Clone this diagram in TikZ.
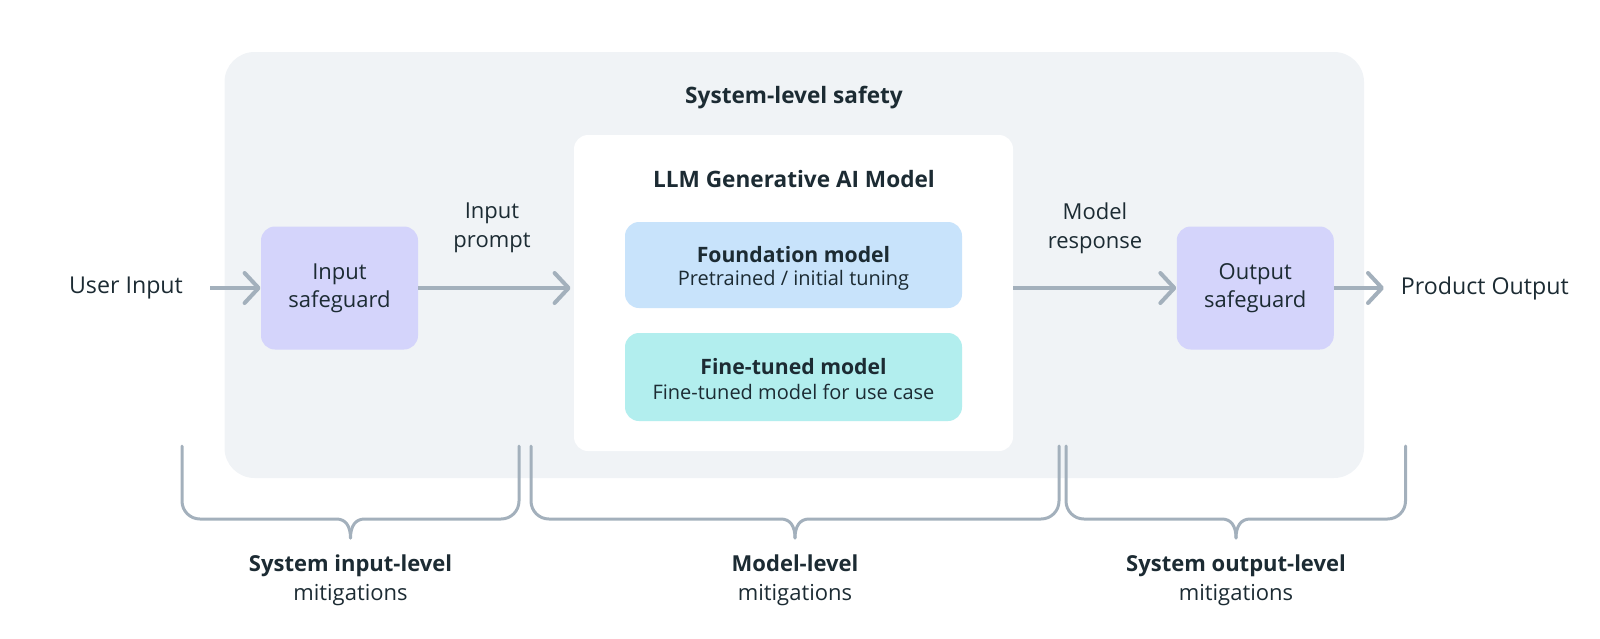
\documentclass[tikz,border=0pt]{standalone}
\usepackage{fontspec}
\setmainfont{Open Sans}
\usetikzlibrary{arrows.meta}
\definecolor{txt}{HTML}{1C2B33}
\definecolor{sysbg}{HTML}{F0F3F6}
\definecolor{lav}{HTML}{D4D4FB}
\definecolor{fblue}{HTML}{C8E3FB}
\definecolor{fcyan}{HTML}{B2EEEE}
\definecolor{lnc}{HTML}{A3B0BC}
\newcommand\mybrace[3]{%
  \draw[brc] ({#1},446) -- ({#1},501) .. controls ({#1},511) and ({#1+8},519) .. ({#1+18},519)
     -- ({#3-14},519) .. controls ({#3-5},519) and ({#3},526) .. ({#3},538);
  \draw[brc] ({#2},446) -- ({#2},501) .. controls ({#2},511) and ({#2-8},519) .. ({#2-18},519)
     -- ({#3+14},519) .. controls ({#3+5},519) and ({#3},526) .. ({#3},538);
}
\begin{document}
\begin{tikzpicture}[x=0.5pt,y=-0.5pt,
  every node/.style={text=txt, font=\fontsize{11}{14}\selectfont},
  panel/.style={draw=none, rounded corners=7pt, inner sep=0pt},
  arr/.style={draw=lnc, line width=2pt, -{Straight Barb[length=7pt,width=15pt,line cap=round,line join=round]}},
  brc/.style={draw=lnc, line width=1.5pt, line cap=round},
  hd/.style={font=\fontsize{11.3}{14}\selectfont\bfseries},
  ttl/.style={font=\fontsize{10.6}{14}\selectfont\bfseries},
  sub/.style={font=\fontsize{10}{12}\selectfont},
  side/.style={font=\fontsize{11.6}{14}\selectfont},
  lbl/.style={align=center, font=\fontsize{11}{14.5}\selectfont}
]
\path[use as bounding box] (0,0) rectangle (1600,638);
% system-level background
\node[panel, fill=sysbg, rounded corners=15pt, minimum width=569.75pt, minimum height=213pt] (sys) at (794.25,265) {};
\node[hd] (systitle) at (794,97.6) {System-level safety};
% LLM model box
\node[panel, fill=white, minimum width=219.5pt, minimum height=158pt] (llm) at (793.5,293) {};
\node[hd] (llmtitle) at (794,179) {LLM Generative AI Model};
\node[panel, fill=fblue, minimum width=168.5pt, minimum height=43pt] (found) at (793.5,265) {};
\node[ttl] (foundt) at (793.5,255) {Foundation model};
\node[sub] (founds) at (793.5,280) {Pretrained / initial tuning};
\node[panel, fill=fcyan, minimum width=168.5pt, minimum height=44pt] (fine) at (793.5,377) {};
\node[ttl] (finet) at (793.5,367) {Fine-tuned model};
\node[sub] (fines) at (793.5,392) {Fine-tuned model for use case};
% safeguards
\node[panel, fill=lav, minimum width=78.5pt, minimum height=61.5pt, align=center] (insg) at (339.5,288) {Input\\safeguard};
\node[panel, fill=lav, minimum width=78.5pt, minimum height=61.5pt, align=center] (outsg) at (1255.25,288) {Output\\safeguard};
% outer texts
\node[side] (userin) at (126,288) {User Input};
\node[side, anchor=west, inner sep=0pt] (prodout) at (1400.5,288) {Product Output};
\node[lbl] (inprompt) at (492,228) {Input\\prompt};
\node[lbl] (mresp) at (1095,228) {Model\\response};
% arrows
\coordinate (a0) at (210,288);
\coordinate (a4) at (1384,288);
\draw[arr] (a0) -- (insg.west);
\draw[arr] (insg.east) -- ([xshift=-1.5pt]llm.west |- insg.east);
\draw[arr] (llm.east |- outsg.west) -- (outsg.west);
\draw[arr] (outsg.east) -- (a4);
% braces
\mybrace{182}{519}{350.5}
\mybrace{531}{1059}{795}
\mybrace{1066}{1405.5}{1236}
% bottom labels
\node[lbl] (l1) at (350.5,580) {\textbf{System input-level}\\mitigations};
\node[lbl] (l2) at (795,580) {\textbf{Model-level}\\mitigations};
\node[lbl] (l3) at (1236,580) {\textbf{System output-level}\\mitigations};
\end{tikzpicture}
\end{document}
